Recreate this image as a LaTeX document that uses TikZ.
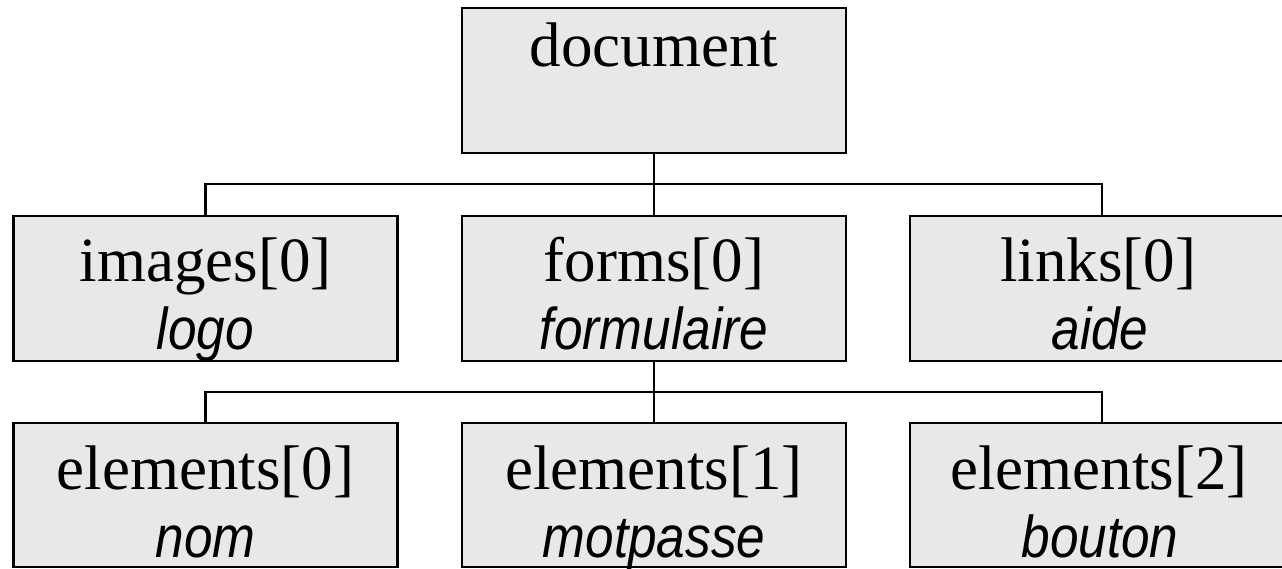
\documentclass[tikz,border=0pt]{standalone}
\usepackage{fontspec}
\setmainfont{Liberation Serif}
\newfontfamily\itsans[FakeStretch=0.87]{Liberation Sans}
\definecolor{boxfill}{HTML}{E8E8E8}
\tikzset{
  objbox/.style={draw=black, fill=boxfill, line width=2.6pt, rectangle,
    minimum width=384pt, minimum height=145pt, inner sep=0pt, outer sep=0pt},
  objbox2/.style={objbox, minimum height=144pt},
  serif/.style={anchor=base, inner sep=0pt, font=\fontsize{63}{70}\selectfont},
  sanit/.style={anchor=base, inner sep=0pt, font=\fontsize{59}{66}\selectfont\itsans\itshape},
  conn/.style={draw=black, line width=2.4pt}
}
\begin{document}
\begin{tikzpicture}[x=1pt,y=-1pt]
\useasboundingbox (0,0) rectangle (1282,568);
\clip (0,0) rectangle (1282,568);
% boxes
\node[objbox] (doc) at (654,80.5) {};
\node[objbox] (images) at (205.5,288.5) {};
\node[objbox] (forms) at (654,288.5) {};
\node[objbox] (links) at (1102,288.5) {};
\node[objbox2] (el0) at (205.5,495) {};
\node[objbox2] (el1) at (654,495) {};
\node[objbox2] (el2) at (1102,495) {};
% connectors
\coordinate (bus1) at (654,184);
\coordinate (bus2) at (654,392);
\draw[conn] (doc.south) -- (forms.north);
\draw[conn] (images.north) |- (bus1) -| (links.north);
\draw[conn] (forms.south) -- (el1.north);
\draw[conn] (el0.north) |- (bus2) -| (el2.north);
% texts
\node[serif] (tdoc) at (654,66) {document};
\node[serif] (timg) at (205.5,281) {images[0]};
\node[sanit] (simg) at (205.5,349) {logo};
\node[serif] (tfrm) at (654,281) {forms[0]};
\node[sanit] (sfrm) at (654,349) {formulaire};
\node[serif] (tlnk) at (1098,281) {links[0]};
\node[sanit] (slnk) at (1100,349) {aide};
\node[serif] (te0) at (205.5,489) {elements[0]};
\node[sanit] (se0) at (205.5,557) {nom};
\node[serif] (te1) at (654,489) {elements[1]};
\node[sanit] (se1) at (654,557) {motpasse};
\node[serif] (te2) at (1099,489) {elements[2]};
\node[sanit] (se2) at (1100,557) {bouton};
\end{tikzpicture}
\end{document}
